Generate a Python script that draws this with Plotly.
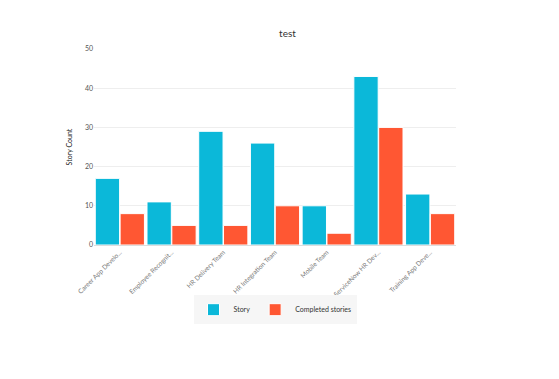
import plotly.graph_objects as go

teams = ["Career App Develo...", "Employee Recognit...", "HR Delivery Team",
         "HR Integration Team", "Mobile Team", "ServiceNow HR Dev...", "Training App Deve..."]
story = [17, 11, 29, 26, 10, 43, 13]
completed = [8, 5, 5, 10, 3, 30, 8]

fig = go.Figure()
fig.add_trace(go.Bar(name="Story", x=teams, y=story, marker=dict(color="#0bb8d9", line=dict(color="white", width=1))))
fig.add_trace(go.Bar(name="Completed stories", x=teams, y=completed, marker=dict(color="#ff5733", line=dict(color="white", width=1))))

fig.update_layout(
    width=559, height=379,
    barmode="group", bargap=0.04, bargroupgap=0.02,
    title=dict(text="test", x=0.5, xanchor="center", y=0.934, yanchor="middle",
               font=dict(family="Lato", size=10, color="#333")),
    font=dict(family="Lato", size=7, color="#555"),
    margin=dict(l=86, r=111, t=41, b=142),
    paper_bgcolor="white", plot_bgcolor="white",
    xaxis=dict(tickangle=-45, showline=True, linecolor="#ddd", linewidth=1, showgrid=False,
               tickfont=dict(size=6.5, color="#777")),
    yaxis=dict(range=[0, 50], dtick=10, gridcolor="#eeeeee", zeroline=False, showline=False,
               title=dict(text="Story Count", font=dict(size=7, color="#222"), standoff=11),
               tickfont=dict(size=7, color="#555")),
    legend=dict(orientation="h", x=0.5, xanchor="center", y=-0.33, yanchor="middle",
                bgcolor="#f6f6f6", font=dict(size=7, color="#333"), itemwidth=30,
                tracegroupgap=0),
    showlegend=True,
)
fig.write_html("out.html")
